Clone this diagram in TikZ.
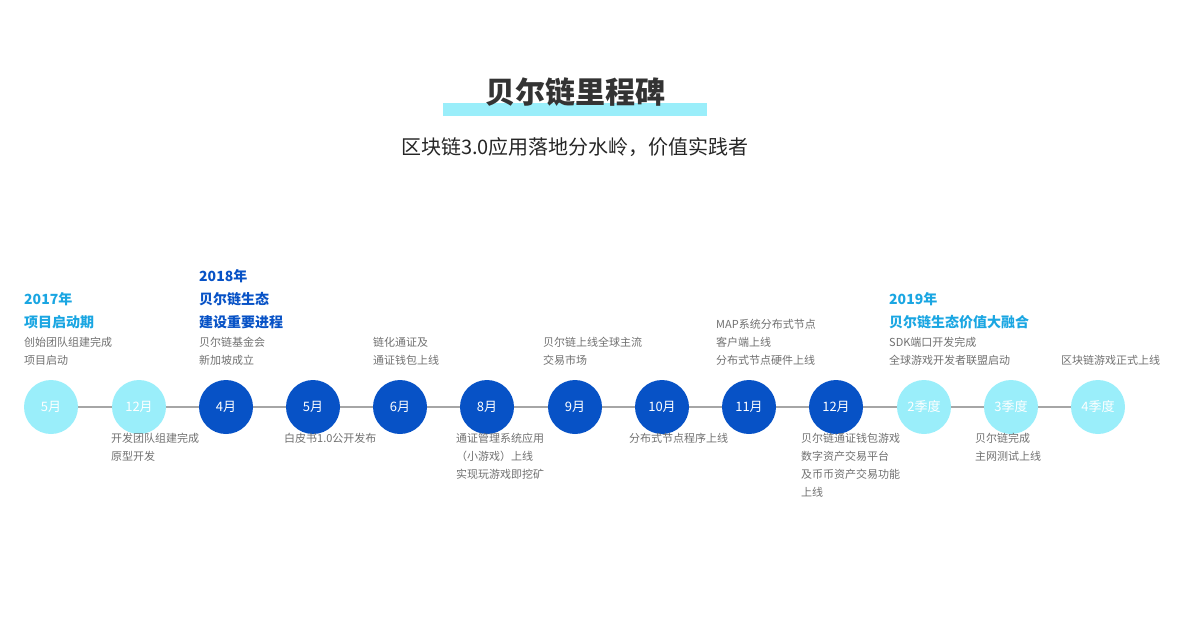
\documentclass[tikz,border=0pt]{standalone}
\usepackage{fontspec}
\setmainfont{Noto Sans CJK SC}
\usetikzlibrary{positioning}
\definecolor{lightcyan}{HTML}{9AEEFA}
\definecolor{deepblue}{HTML}{0752C6}
\definecolor{headcyan}{HTML}{1AA6E2}
\definecolor{txtgray}{HTML}{707070}
\tikzset{
  light/.style={circle,fill=lightcyan,minimum size=54pt,inner sep=0,text=white,font=\fontsize{13}{13}\selectfont},
  dark/.style={circle,fill=deepblue,minimum size=54pt,inner sep=0,text=white,font=\fontsize{13}{13}\selectfont},
  note/.style={inner sep=0,align=left,text=txtgray,font=\fontsize{11}{18}\selectfont},
  head/.style={inner sep=0,align=left,font=\fontsize{14}{23}\selectfont\bfseries}
}
\begin{document}
\begin{tikzpicture}[x=1pt,y=-1pt]
    \useasboundingbox (0,0) rectangle (1200,629);
    % titre
    \fill[lightcyan] (443,103) rectangle (707,116);
    \node[font=\fontsize{30}{30}\selectfont\bfseries,text=black!80] (title) at (575,92) {贝尔链里程碑};
    \node[font=\fontsize{20}{20}\selectfont,text=black!85] (subtitle) at (575,147) {区块链3.0应用落地分水岭，价值实践者};

    % axe
    \draw[gray!70,line width=2pt] (51,407) -- (1098,407);

    % jalons
    \foreach \x/\name/\lab/\sty in {51/m1/5月/light, 139/m2/12月/light, 226/m3/4月/dark,
        313/m4/5月/dark, 400/m5/6月/dark, 487/m6/8月/dark, 575/m7/9月/dark,
        662/m8/10月/dark, 749/m9/11月/dark, 836/m10/12月/dark,
        924/m11/2季度/light, 1011/m12/3季度/light, 1098/m13/4季度/light}
        \node[\sty] (\name) at (\x,407) {\lab};

    % textes au-dessus
    \node[note,anchor=south west] (t1) at (24,366) {创始团队组建完成\\项目启动};
    \node[note,anchor=south west] (t3) at (199,366) {贝尔链基金会\\新加坡成立};
    \node[note,anchor=south west] (t5) at (373,366) {链化通证及\\通证钱包上线};
    \node[note,anchor=south west] (t7) at (543,366) {贝尔链上线全球主流\\交易市场};
    \node[note,anchor=south west] (t9) at (716,366) {MAP系统分布式节点\\客户端上线\\分布式节点硬件上线};
    \node[note,anchor=south west] (t11) at (889,366) {SDK端口开发完成\\全球游戏开发者联盟启动};
    \node[note,anchor=south west] (t13) at (1061,366) {区块链游戏正式上线};

    % titres des années
    \node[head,text=headcyan,anchor=south west] (y2017) at ([yshift=8pt]t1.north west) {2017年\\项目启动期};
    \node[head,text=deepblue,anchor=south west] (y2018) at ([yshift=8pt]t3.north west) {2018年\\贝尔链生态\\建设重要进程};
    \node[head,text=headcyan,anchor=south west] (y2019) at ([yshift=8pt]t11.north west) {2019年\\贝尔链生态价值大融合};

    % textes au-dessous
    \node[note,anchor=north west] (b2) at (111,433) {开发团队组建完成\\原型开发};
    \node[note,anchor=north west] (b4) at (284,433) {白皮书1.0公开发布};
    \node[note,anchor=north west] (b6) at (456,433) {通证管理系统应用\\（小游戏）上线\\实现玩游戏即挖矿};
    \node[note,anchor=north west] (b8) at (629,433) {分布式节点程序上线};
    \node[note,anchor=north west] (b10) at (801,433) {贝尔链通证钱包游戏\\数字资产交易平台\\及币币资产交易功能\\上线};
    \node[note,anchor=north west] (b12) at (975,433) {贝尔链完成\\主网测试上线};
\end{tikzpicture}
\end{document}
